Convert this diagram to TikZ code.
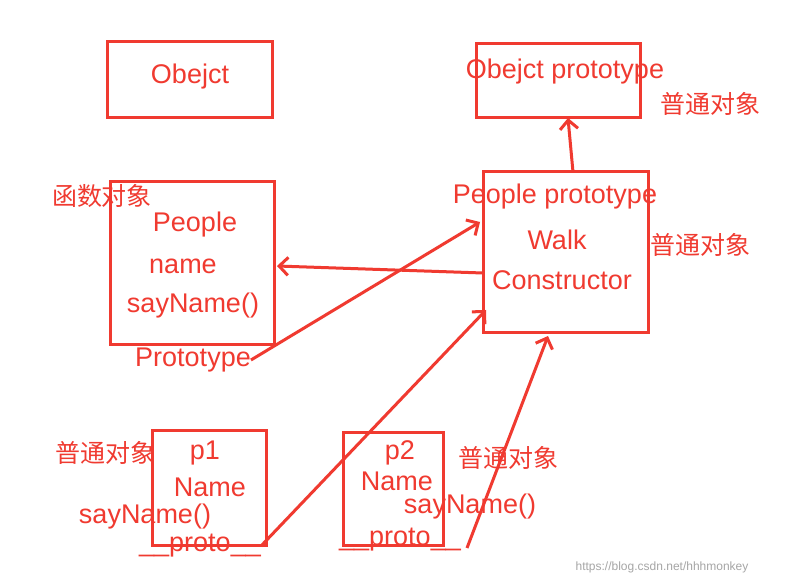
\documentclass[tikz,border=0pt]{standalone}
\usepackage{fontspec}
\setmainfont{Liberation Sans}
\newfontfamily\cjk{Noto Sans CJK SC}
\usetikzlibrary{arrows.meta}
\definecolor{rd}{HTML}{F03A30}
\begin{document}
\begin{tikzpicture}[x=1pt,y=-1pt,
  box/.style={draw=rd,line width=3pt},
  t/.style={text=rd,font=\fontsize{27}{27}\selectfont,inner sep=0pt},
  c/.style={text=rd,font=\cjk\fontsize{25}{25}\selectfont,inner sep=0pt},
  arr/.style={draw=rd,line width=3pt,-{Straight Barb[length=9pt,width=18pt]}}]
\fill[white] (0,0) rectangle (785,585);
\useasboundingbox (0,0) rectangle (785,585);
\draw[box] (107,42) rectangle (272,118);
\node[t] (obj) at (190,77) {Obejct};
\draw[box] (476,44) rectangle (640,118);
\coordinate (opb) at (568,118);
\node[t] (op) at (565,72) {Obejct prototype};
\node[c] (c1) at (710,104) {普通对象};
\draw[box] (110,182) rectangle (274,345);
\coordinate (pbr) at (277,266);
\node[t] (pe) at (195,225) {People};
\node[t] (pn) at (183,266) {name};
\node[t] (ps) at (193,306) {sayName()};
\node[c] (c2) at (102,196) {函数对象};
\node[t] (pp) at (193,360) {Prototype};
\draw[box] (483,172) rectangle (648,333);
\coordinate (ppt) at (573,172);
\coordinate (ppl) at (483,273);
\coordinate (ppa) at (480,222);
\coordinate (ppb) at (486,310);
\coordinate (ppc) at (548,336);
\node[t] (pp1) at (555,197) {People prototype};
\node[t] (pp2) at (557,240) {Walk};
\node[t] (pp3) at (562,280) {Constructor};
\node[c] (c3) at (700,245) {普通对象};
\draw[box] (152,430) rectangle (266,545);
\node[t] (a1) at (205,453) {p1};
\node[t] (a2) at (210,487) {Name};
\node[t] (a3) at (145,517) {sayName()};
\node[t] (a4) at (200,546) {\_\_proto\_\_};
\node[c] (c4) at (105,453) {普通对象};
\draw[box] (343,432) rectangle (443,545);
\node[t] (b1) at (400,453) {p2};
\node[t] (b2) at (397,481) {Name};
\node[t] (b3) at (470,507) {sayName()};
\node[t] (b4) at (400,540) {\_\_proto\_\_};
\node[c] (c5) at (508,458) {普通对象};
\node[text=gray!70,font=\fontsize{12}{12}\selectfont,inner sep=0pt] (wm) at (662,567) {https://blog.csdn.net/hhhmonkey};
\draw[arr] (ppt) -- (opb);
\draw[arr] (ppl) -- (pbr);
\draw[arr] (pp.east) -- (ppa);
\draw[arr] (a4.east) -- (ppb);
\draw[arr] (b4.east) ++(6,8) -- (ppc);
\end{tikzpicture}
\end{document}
